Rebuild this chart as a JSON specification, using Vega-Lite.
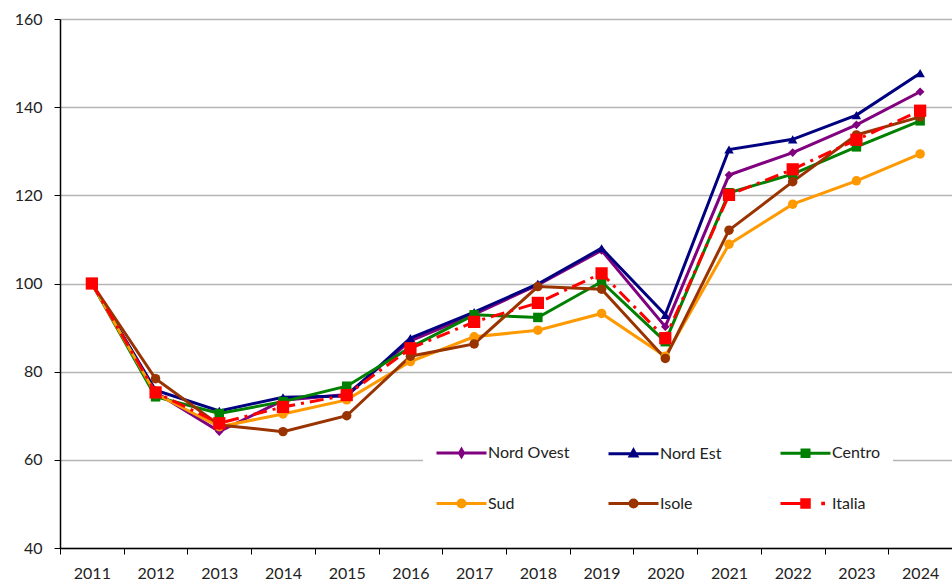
{
  "$schema": "https://vega.github.io/schema/vega-lite/v6.json",
  "width": 892,
  "height": 529,
  "autosize": {"type": "none"},
  "padding": {"left": 60, "top": 19, "right": 0, "bottom": 38},
  "background": "white",
  "config": {"view": {"stroke": null}, "font": "Lato"},
  "datasets": {
    "serie": [
      {"zona": "Nord Ovest", "anno": "2011", "valore": 100},
      {"zona": "Nord Ovest", "anno": "2012", "valore": 75.3},
      {"zona": "Nord Ovest", "anno": "2013", "valore": 66.4},
      {"zona": "Nord Ovest", "anno": "2014", "valore": 73.5},
      {"zona": "Nord Ovest", "anno": "2015", "valore": 74.8},
      {"zona": "Nord Ovest", "anno": "2016", "valore": 87.0},
      {"zona": "Nord Ovest", "anno": "2017", "valore": 93.0},
      {"zona": "Nord Ovest", "anno": "2018", "valore": 99.7},
      {"zona": "Nord Ovest", "anno": "2019", "valore": 107.5},
      {"zona": "Nord Ovest", "anno": "2020", "valore": 90.2},
      {"zona": "Nord Ovest", "anno": "2021", "valore": 124.6},
      {"zona": "Nord Ovest", "anno": "2022", "valore": 129.7},
      {"zona": "Nord Ovest", "anno": "2023", "valore": 136.0},
      {"zona": "Nord Ovest", "anno": "2024", "valore": 143.5},
      {"zona": "Nord Est", "anno": "2011", "valore": 100},
      {"zona": "Nord Est", "anno": "2012", "valore": 75.8},
      {"zona": "Nord Est", "anno": "2013", "valore": 71.1},
      {"zona": "Nord Est", "anno": "2014", "valore": 74.2},
      {"zona": "Nord Est", "anno": "2015", "valore": 74.5},
      {"zona": "Nord Est", "anno": "2016", "valore": 87.6},
      {"zona": "Nord Est", "anno": "2017", "valore": 93.5},
      {"zona": "Nord Est", "anno": "2018", "valore": 99.9},
      {"zona": "Nord Est", "anno": "2019", "valore": 108.0},
      {"zona": "Nord Est", "anno": "2020", "valore": 92.9},
      {"zona": "Nord Est", "anno": "2021", "valore": 130.4},
      {"zona": "Nord Est", "anno": "2022", "valore": 132.7},
      {"zona": "Nord Est", "anno": "2023", "valore": 138.2},
      {"zona": "Nord Est", "anno": "2024", "valore": 147.7},
      {"zona": "Centro", "anno": "2011", "valore": 100},
      {"zona": "Centro", "anno": "2012", "valore": 74.3},
      {"zona": "Centro", "anno": "2013", "valore": 70.5},
      {"zona": "Centro", "anno": "2014", "valore": 73.2},
      {"zona": "Centro", "anno": "2015", "valore": 76.7},
      {"zona": "Centro", "anno": "2016", "valore": 85.5},
      {"zona": "Centro", "anno": "2017", "valore": 92.9},
      {"zona": "Centro", "anno": "2018", "valore": 92.3},
      {"zona": "Centro", "anno": "2019", "valore": 100.4},
      {"zona": "Centro", "anno": "2020", "valore": 86.8},
      {"zona": "Centro", "anno": "2021", "valore": 120.6},
      {"zona": "Centro", "anno": "2022", "valore": 124.8},
      {"zona": "Centro", "anno": "2023", "valore": 131.0},
      {"zona": "Centro", "anno": "2024", "valore": 136.9},
      {"zona": "Sud", "anno": "2011", "valore": 100},
      {"zona": "Sud", "anno": "2012", "valore": 75.0},
      {"zona": "Sud", "anno": "2013", "valore": 67.5},
      {"zona": "Sud", "anno": "2014", "valore": 70.4},
      {"zona": "Sud", "anno": "2015", "valore": 73.6},
      {"zona": "Sud", "anno": "2016", "valore": 82.3},
      {"zona": "Sud", "anno": "2017", "valore": 87.9},
      {"zona": "Sud", "anno": "2018", "valore": 89.4},
      {"zona": "Sud", "anno": "2019", "valore": 93.2},
      {"zona": "Sud", "anno": "2020", "valore": 83.5},
      {"zona": "Sud", "anno": "2021", "valore": 108.9},
      {"zona": "Sud", "anno": "2022", "valore": 118.0},
      {"zona": "Sud", "anno": "2023", "valore": 123.3},
      {"zona": "Sud", "anno": "2024", "valore": 129.4},
      {"zona": "Isole", "anno": "2011", "valore": 100},
      {"zona": "Isole", "anno": "2012", "valore": 78.4},
      {"zona": "Isole", "anno": "2013", "valore": 67.9},
      {"zona": "Isole", "anno": "2014", "valore": 66.4},
      {"zona": "Isole", "anno": "2015", "valore": 70.0},
      {"zona": "Isole", "anno": "2016", "valore": 83.5},
      {"zona": "Isole", "anno": "2017", "valore": 86.3},
      {"zona": "Isole", "anno": "2018", "valore": 99.3},
      {"zona": "Isole", "anno": "2019", "valore": 98.7},
      {"zona": "Isole", "anno": "2020", "valore": 83.0},
      {"zona": "Isole", "anno": "2021", "valore": 112.1},
      {"zona": "Isole", "anno": "2022", "valore": 123.1},
      {"zona": "Isole", "anno": "2023", "valore": 133.7},
      {"zona": "Isole", "anno": "2024", "valore": 137.8},
      {"zona": "Italia", "anno": "2011", "valore": 100},
      {"zona": "Italia", "anno": "2012", "valore": 75.3},
      {"zona": "Italia", "anno": "2013", "valore": 68.3},
      {"zona": "Italia", "anno": "2014", "valore": 72.0},
      {"zona": "Italia", "anno": "2015", "valore": 74.7},
      {"zona": "Italia", "anno": "2016", "valore": 85.3},
      {"zona": "Italia", "anno": "2017", "valore": 91.3},
      {"zona": "Italia", "anno": "2018", "valore": 95.6},
      {"zona": "Italia", "anno": "2019", "valore": 102.3},
      {"zona": "Italia", "anno": "2020", "valore": 87.6},
      {"zona": "Italia", "anno": "2021", "valore": 120.1},
      {"zona": "Italia", "anno": "2022", "valore": 125.9},
      {"zona": "Italia", "anno": "2023", "valore": 132.6},
      {"zona": "Italia", "anno": "2024", "valore": 139.2}
    ]
  },
  "data": {"name": "serie"},
  "encoding": {
    "x": {
      "field": "anno",
      "type": "ordinal",
      "scale": {"type": "point", "padding": 0.5},
      "axis": {
        "title": null,
        "labelAngle": 0,
        "labelFont": "Lato",
        "labelFontSize": 16,
        "labelColor": "#222222",
        "labelPadding": 11,
        "domainColor": "#000000",
        "domainWidth": 1.5,
        "tickColor": "#000000",
        "tickWidth": 1,
        "tickSize": 6,
        "tickOffset": -31.86,
        "labelOffset": 31.86,
        "grid": false
      }
    },
    "y": {
      "field": "valore",
      "type": "quantitative",
      "scale": {"domain": [40, 160], "nice": false, "zero": false},
      "axis": {
        "title": null,
        "values": [40, 60, 80, 100, 120, 140, 160],
        "labelFont": "Lato",
        "labelFontSize": 16,
        "labelColor": "#222222",
        "labelPadding": 12,
        "domainColor": "#000000",
        "domainWidth": 1.5,
        "tickColor": "#000000",
        "tickSize": 6,
        "grid": true,
        "gridColor": "#b5b5b5",
        "gridWidth": 1.5
      }
    },
    "color": {
      "field": "zona",
      "type": "nominal",
      "scale": {
        "domain": ["Nord Ovest", "Nord Est", "Centro", "Sud", "Isole", "Italia"],
        "range": ["#800080", "#000080", "#008000", "#FF9900", "#993300", "#FF0000"]
      },
      "legend": {
        "orient": "none",
        "legendX": 363,
        "legendY": 395,
        "direction": "horizontal",
        "columns": 3,
        "title": null,
        "fillColor": "white",
        "padding": 12,
        "symbolSize": 2500,
        "symbolStrokeWidth": 3,
        "symbolOpacity": 1,
        "symbolFillColor": "transparent",
        "labelFont": "Lato",
        "labelFontSize": 16,
        "labelColor": "#222222",
        "labelOffset": 0,
        "columnPadding": 32,
        "rowPadding": 14,
        "gridAlign": "all"
      }
    }
  },
  "layer": [
    {
      "mark": {"type": "point", "filled": false, "opacity": 0},
      "encoding": {
        "shape": {
          "field": "zona",
          "type": "nominal",
          "scale": {
            "domain": ["Nord Ovest", "Nord Est", "Centro", "Sud", "Isole", "Italia"],
            "range": [
              "M-1,0L1,0M0,-0.14L0.08,0L0,0.14L-0.08,0ZM0,-0.06L0,0.06",
              "M-1,0L1,0M0,-0.14L0.13,0.09L-0.13,0.09ZM0,-0.05L0.05,0.04L-0.05,0.04Z",
              "M-1,0L1,0M-0.14,-0.13L0.14,-0.13L0.14,0.13L-0.14,0.13ZM-0.06,-0.05L0.06,-0.05L0.06,0.05L-0.06,0.05Z",
              "M-1,0L1,0M-0.14,0A0.14,0.14,0,1,0,0.14,0A0.14,0.14,0,1,0,-0.14,0ZM-0.06,0A0.06,0.06,0,1,0,0.06,0A0.06,0.06,0,1,0,-0.06,0Z",
              "M-1,0L1,0M-0.14,0A0.14,0.14,0,1,0,0.14,0A0.14,0.14,0,1,0,-0.14,0ZM-0.06,0A0.06,0.06,0,1,0,0.06,0A0.06,0.06,0,1,0,-0.06,0Z",
              "M-1,0L-0.2,0M-0.15,-0.15L0.15,-0.15L0.15,0.15L-0.15,0.15ZM-0.07,-0.07L0.07,-0.07L0.07,0.07L-0.07,0.07ZM0.69,-0.01L0.72,-0.01L0.72,0.01L0.69,0.01Z"
            ]
          },
          "legend": {
            "orient": "none",
            "legendX": 363,
            "legendY": 395,
            "direction": "horizontal",
            "columns": 3,
            "title": null,
            "fillColor": "white",
            "padding": 12,
            "symbolSize": 2500,
            "symbolStrokeWidth": 3,
            "symbolOpacity": 1,
            "symbolFillColor": "transparent",
            "labelFont": "Lato",
            "labelFontSize": 16,
            "labelColor": "#222222",
            "labelOffset": 0,
            "columnPadding": 32,
            "rowPadding": 14,
            "gridAlign": "all"
          }
        }
      }
    },
    {
      "transform": [{"filter": "datum.zona !== 'Italia'"}],
      "mark": {"type": "line", "strokeWidth": 3}
    },
    {
      "transform": [{"filter": "datum.zona === 'Nord Ovest'"}],
      "mark": {"type": "point", "shape": "diamond", "filled": true, "opacity": 1, "size": 75}
    },
    {
      "transform": [{"filter": "datum.zona === 'Nord Est'"}],
      "mark": {"type": "point", "shape": "triangle-up", "filled": true, "opacity": 1, "size": 90}
    },
    {
      "transform": [{"filter": "datum.zona === 'Centro'"}],
      "mark": {"type": "point", "shape": "square", "filled": true, "opacity": 1, "size": 90}
    },
    {
      "transform": [{"filter": "datum.zona === 'Sud' || datum.zona === 'Isole'"}],
      "mark": {"type": "point", "shape": "circle", "filled": true, "opacity": 1, "size": 90}
    },
    {
      "transform": [{"filter": "datum.zona === 'Italia'"}],
      "mark": {"type": "line", "strokeWidth": 3, "strokeDash": [14, 6, 3, 6]}
    },
    {
      "transform": [{"filter": "datum.zona === 'Italia'"}],
      "mark": {"type": "point", "shape": "square", "filled": true, "opacity": 1, "size": 150}
    }
  ]
}
